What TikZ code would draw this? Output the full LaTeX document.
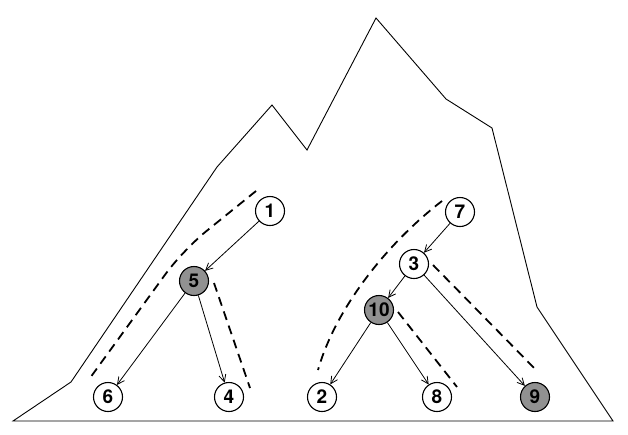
\documentclass[tikz,border=0pt]{standalone}
\usepackage{fontspec}
\setmainfont{TeX Gyre Heros}
\usetikzlibrary{arrows.meta}
\definecolor{hotgray}{RGB}{145,145,145}

\begin{document}
\begin{tikzpicture}[x=1pt, y=-1pt,
    vert/.style={circle, draw, line width=1.1pt, fill=white, minimum size=29pt, inner sep=0pt,
                 font=\bfseries\fontsize{19}{19}\selectfont},
    hot/.style={vert, fill=hotgray},
    link/.style={-{Straight Barb[length=7pt, width=7pt, line width=0.8pt]}, line width=0.8pt},
    trail/.style={line width=1.8pt, dash pattern=on 9pt off 6pt}]
    \useasboundingbox (0,0) rectangle (628,434);
    % mountain outline
    \draw[line width=0.9pt] (13,421) -- (71,382) -- (217,167) -- (272,105) -- (307,150) -- (376,18)
        -- (446,99) -- (492,128) -- (537,307) -- (613,421) -- cycle;
    % left tree
    \node[vert] (n1) at (270,211) {1};
    \node[hot]  (n5) at (194,281) {5};
    \node[vert] (n6) at (108,397) {6};
    \node[vert] (n4) at (229,397) {4};
    \draw[link] (n1) -- (n5);
    \draw[link] (n5) -- (n6);
    \draw[link] (n5) -- (n4);
    % right tree
    \node[vert] (n7)  at (460,212) {7};
    \node[vert] (n3)  at (414,264) {3};
    \node[hot]  (n10) at (379,310) {10};
    \node[vert] (n2)  at (322,397) {2};
    \node[vert] (n8)  at (437,397) {8};
    \node[hot]  (n9)  at (535,397) {9};
    \draw[link] (n7) -- (n3);
    \draw[link] (n3) -- (n10);
    \draw[link] (n3) -- (n9);
    \draw[link] (n10) -- (n2);
    \draw[link] (n10) -- (n8);
    % dashed paths
    \draw[trail, rounded corners=30pt] (256,191) -- (183,250) -- (90,378);
    \draw[trail] (214,283) -- (250,388);
    \draw[trail] (442,201) .. controls (385,245) and (335,310) .. (318,370);
    \draw[trail] (398,312) -- (457,387);
    \draw[trail] (433,265) -- (538,372);
\end{tikzpicture}
\end{document}
